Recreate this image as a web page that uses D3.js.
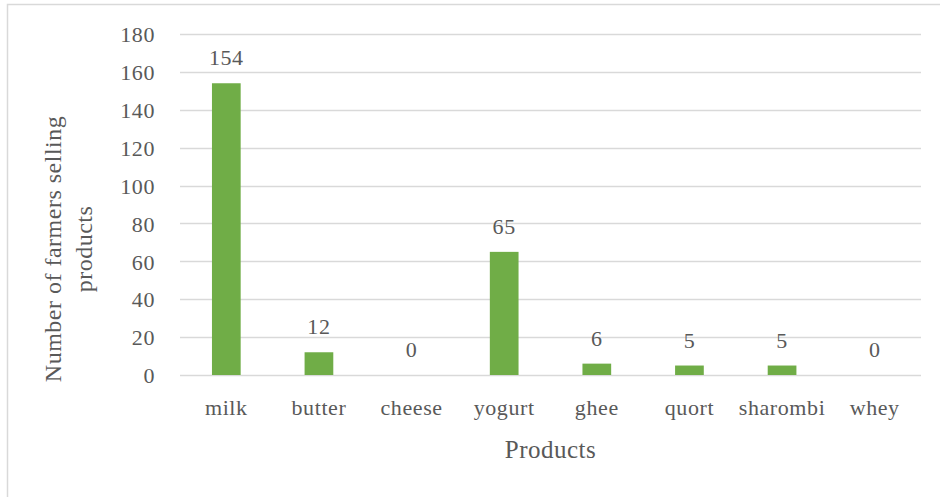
<!DOCTYPE html>
<html lang="en">
<head>
    <meta charset="UTF-8">
    <title>Products sold by farmers</title>
    <script src="https://cdnjs.cloudflare.com/ajax/libs/d3/7.8.5/d3.min.js"></script>
    <style>
        body { margin: 0; background: #fff; }
        text { font-family: "Liberation Serif", "DejaVu Serif", serif; fill: #595959; }
    </style>
</head>
<body>
    <div id="chart"></div>
    <script>
        // data
        var products = ["milk", "butter", "cheese", "yogurt", "ghee", "quort", "sharombi", "whey"];
        var farmers = [154, 12, 0, 65, 6, 5, 5, 0];
        var yTicks = [0, 20, 40, 60, 80, 100, 120, 140, 160, 180];

        var width = 940,
            height = 497;
        var margin = {top: 34, right: 19, bottom: 122, left: 180};

        var data = products.map(function (p, i) {
            return {name: p, value: farmers[i]};
        });

        var svg = d3.select("#chart")
            .append("svg")
            .attr("width", width)
            .attr("height", height);

        // outer frame, runs off the right and bottom edges
        svg.append("rect")
            .attr("x", 7.5)
            .attr("y", 4.5)
            .attr("width", 960)
            .attr("height", 520)
            .attr("fill", "none")
            .attr("stroke", "#d9d9d9")
            .attr("stroke-width", 1.5);

        var x = d3.scaleBand()
            .domain(products)
            .range([margin.left, width - margin.right])
            .paddingInner(0.69)
            .paddingOuter(0.345);

        var y = d3.scaleLinear()
            .domain([0, 180])
            .range([height - margin.bottom, margin.top]);

        // gridlines
        svg.append("g")
            .selectAll("line")
            .data(yTicks)
            .enter().append("line")
            .attr("x1", margin.left)
            .attr("x2", width - margin.right)
            .attr("y1", function (d) { return Math.round(y(d)) + 0.5; })
            .attr("y2", function (d) { return Math.round(y(d)) + 0.5; })
            .attr("stroke", "#d9d9d9")
            .attr("stroke-width", 1.5);

        // y axis labels
        var yAxis = d3.axisLeft(y).tickValues(yTicks).tickSize(0).tickPadding(0);
        var gy = svg.append("g")
            .attr("transform", "translate(155,0)")
            .call(yAxis);
        gy.select(".domain").remove();
        gy.selectAll("text")
            .style("font-size", "22px")
            .style("letter-spacing", "0.6px")
            .attr("dy", "0.35em");

        // bars
        svg.selectAll(".bar")
            .data(data)
            .enter().append("rect")
            .attr("class", "bar")
            .attr("x", function (d) { return x(d.name); })
            .attr("y", function (d) { return y(d.value); })
            .attr("width", x.bandwidth())
            .attr("height", function (d) { return y(0) - y(d.value); })
            .attr("fill", "#70ad47");

        // value labels
        svg.selectAll(".val")
            .data(data)
            .enter().append("text")
            .attr("class", "val")
            .attr("x", function (d) { return x(d.name) + x.bandwidth() / 2; })
            .attr("y", function (d) { return y(d.value) - 18; })
            .attr("text-anchor", "middle")
            .style("font-size", "22px")
            .style("letter-spacing", "0.6px")
            .text(function (d) { return d.value; });

        // x axis labels
        var xAxis = d3.axisBottom(x).tickSize(0).tickPadding(0);
        var gx = svg.append("g")
            .attr("transform", "translate(0," + (y(0) + 40) + ")")
            .call(xAxis);
        gx.select(".domain").remove();
        gx.selectAll("text")
            .style("font-size", "22px")
            .style("letter-spacing", "0.6px")
            .attr("dy", 0);

        // axis titles
        svg.append("text")
            .attr("x", (margin.left + width - margin.right) / 2)
            .attr("y", 458)
            .attr("text-anchor", "middle")
            .style("font-size", "25px")
            .style("letter-spacing", "0.5px")
            .text("Products");

        var yt = svg.append("text")
            .attr("transform", "translate(61,249) rotate(-90)")
            .attr("text-anchor", "middle")
            .style("font-size", "24px")
            .style("letter-spacing", "0.5px");
        yt.append("tspan").attr("x", 0).attr("y", 0).text("Number of farmers selling");
        yt.append("tspan").attr("x", 0).attr("y", 31).text("products");
    </script>
</body>
</html>
